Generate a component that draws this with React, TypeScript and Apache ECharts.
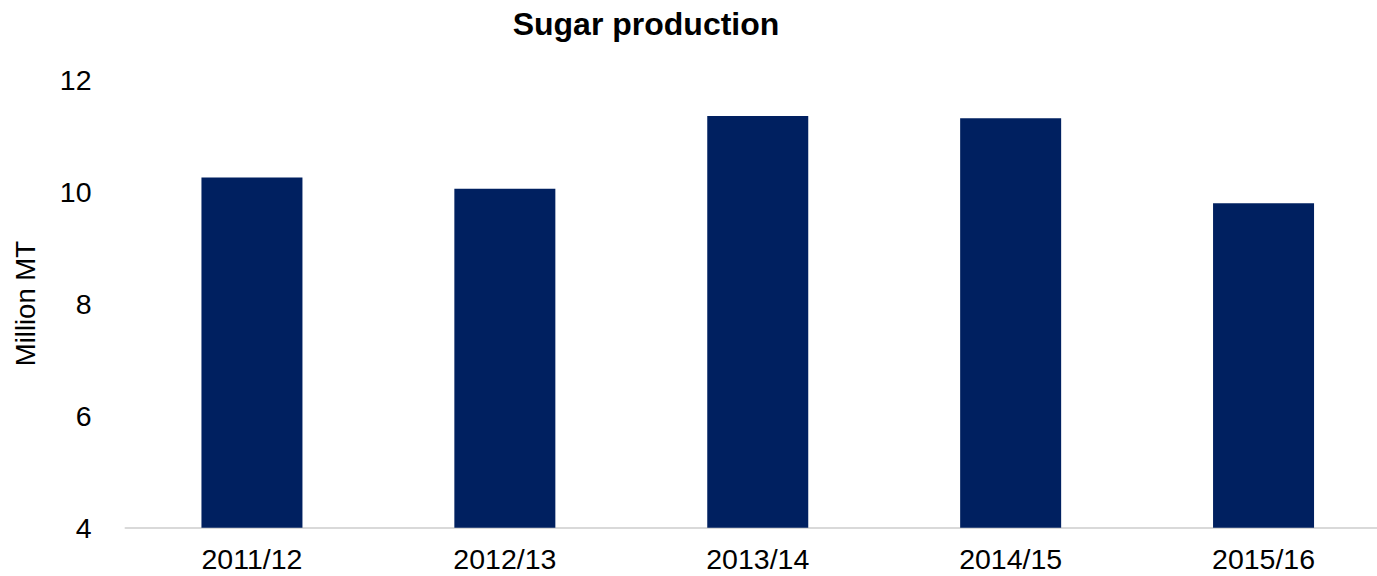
import React, { useEffect, useRef } from "react";
import * as echarts from "echarts";

const categories = ["2011/12", "2012/13", "2013/14", "2014/15", "2015/16"];
const production = [10.25, 10.05, 11.35, 11.31, 9.79];
const yTicks = { min: 4, max: 12, interval: 2 };
const titleText = "Sugar production";
const yName = "Million MT";

const FONT = "'Liberation Sans', Arial, sans-serif";

export default function App() {
  const ref = useRef<HTMLDivElement>(null);
  useEffect(() => {
    if (!ref.current) return;
    const chart = echarts.init(ref.current, undefined, { renderer: "svg" });
    chart.setOption({
      animation: false,
      backgroundColor: "#ffffff",
      title: {
        text: titleText,
        left: 641,
        top: 3,
        textAlign: "center",
        textStyle: { fontFamily: FONT, fontSize: 32, fontWeight: "bold", color: "#000000" },
      },
      grid: {
        left: 125.5,
        right: -13,
        top: 79.5,
        bottom: 48.3,
        containLabel: false,
        outerBoundsMode: "none",
      },
      xAxis: {
        type: "category",
        data: categories,
        axisLine: { show: true, lineStyle: { color: "#d9d9d9", width: 2 } },
        axisTick: { show: false },
        axisLabel: { fontFamily: FONT, fontSize: 28.5, color: "#000000", margin: 17 },
      },
      yAxis: {
        type: "value",
        min: yTicks.min,
        max: yTicks.max,
        interval: yTicks.interval,
        name: yName,
        nameLocation: "middle",
        nameRotate: 90,
        nameGap: 86,
        nameTextStyle: { fontFamily: FONT, fontSize: 27.5, color: "#000000" },
        axisLine: { show: false },
        axisTick: { show: false },
        splitLine: { show: false },
        axisLabel: { fontFamily: FONT, fontSize: 28.5, color: "#000000", margin: 34 },
      },
      series: [
        {
          type: "bar",
          data: production,
          barWidth: 101,
          itemStyle: { color: "#002060" },
        },
      ],
    });
    return () => chart.dispose();
  }, []);
  return (
    <div
      ref={ref}
      style={{ position: "absolute", left: 0, top: 0, width: 1377, height: 576 }}
    />
  );
}
